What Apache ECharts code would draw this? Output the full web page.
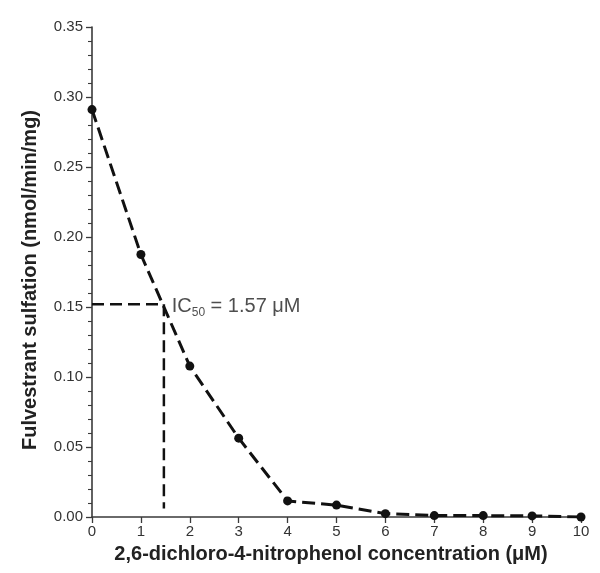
<!DOCTYPE html>
<html><head><meta charset="utf-8">
<script src="https://cdn.jsdelivr.net/npm/echarts@6/dist/echarts.min.js"></script>
<style>html,body{margin:0;padding:0;background:#fff}#c{width:600px;height:573px}</style>
</head><body><div id="c"></div>
<script>
const concentrations = [0, 1, 2, 3, 4, 5, 6, 7, 8, 9, 10];
const sulfation = [0.291, 0.1875, 0.1078, 0.0563, 0.0115, 0.0085, 0.0024, 0.001, 0.001, 0.0008, 0.0];
const ic50HLine = [[0, 0.152], [1.47, 0.152]];
const ic50VLine = [[1.47, 0.152], [1.47, 0.006]];
const ic50Label = [[1.63, 0.1505]];
const xTicks = [0,1,2,3,4,5,6,7,8,9,10];
const yTicks = ['0.00','0.05','0.10','0.15','0.20','0.25','0.30','0.35'];
const xTitle = '2,6-dichloro-4-nitrophenol concentration (μM)';
const yTitle = 'Fulvestrant sulfation (nmol/min/mg)';

const chart = echarts.init(document.getElementById('c'), null, {renderer:'canvas'});
const font = 'Liberation Sans, Arial, sans-serif';
chart.setOption({
  animation: false,
  grid: {left: 92, right: 19, top: 27, bottom: 56, containLabel: false},
  xAxis: {
    type: 'value', min: 0, max: 10, interval: 1,
    axisLine: {show: true, lineStyle: {color: '#3a3a3a', width: 1.6}},
    axisTick: {show: true, length: 6, lineStyle: {color: '#3a3a3a', width: 1.3}},
    axisLabel: {fontFamily: font, fontSize: 15, color: '#333', margin: 7,
      formatter: v => String(xTicks[Math.round(v)])},
    splitLine: {show: false}
  },
  yAxis: {
    type: 'value', min: 0, max: 0.35, interval: 0.05,
    axisLine: {show: true, lineStyle: {color: '#3a3a3a', width: 1.6}},
    axisTick: {show: true, length: 6, lineStyle: {color: '#3a3a3a', width: 1.3}},
    minorTick: {show: true, splitNumber: 5, length: 4, lineStyle: {color: '#3a3a3a', width: 1.1}},
    axisLabel: {fontFamily: font, fontSize: 15, color: '#333', margin: 9,
      formatter: v => yTicks[Math.round(v / 0.05)]},
    splitLine: {show: false}
  },
  graphic: [
    {type: 'text', left: 'center', top: 0, x: 0, y: 0,
      style: {text: xTitle, x: 331, y: 554, align: 'center', verticalAlign: 'middle',
        font: 'bold 20px ' + font, fill: '#222'}, position: [0, 0], left: null, top: null},
    {type: 'text', x: 30, y: 280, rotation: Math.PI / 2,
      style: {text: yTitle, x: 0, y: 0, align: 'center', verticalAlign: 'middle',
        font: 'bold 20px ' + font, fill: '#222'}}
  ],
  series: [
    {
      type: 'line',
      data: concentrations.map((x, i) => [x, sulfation[i]]),
      symbol: 'circle', symbolSize: 9,
      itemStyle: {color: '#111'},
      lineStyle: {color: '#111', width: 3, type: [13, 6]},
      z: 3
    },
    {
      type: 'line', data: ic50HLine, symbol: 'none',
      lineStyle: {color: '#111', width: 2.5, type: [12, 6]}, z: 2
    },
    {
      type: 'line', data: ic50VLine, symbol: 'none',
      lineStyle: {color: '#111', width: 2.5, type: [12, 6]}, z: 2
    },
    {
      type: 'scatter', data: ic50Label, symbolSize: 0,
      label: {
        show: true, position: 'right', distance: 0,
        formatter: 'IC{sub|50} = 1.57 μM',
        fontFamily: font, fontSize: 20, color: '#222',
        rich: {sub: {fontFamily: font, fontSize: 12, color: '#222', verticalAlign: 'bottom', padding: [12, 0, 0, 0]}}
      }
    }
  ]
});
</script></body></html>
